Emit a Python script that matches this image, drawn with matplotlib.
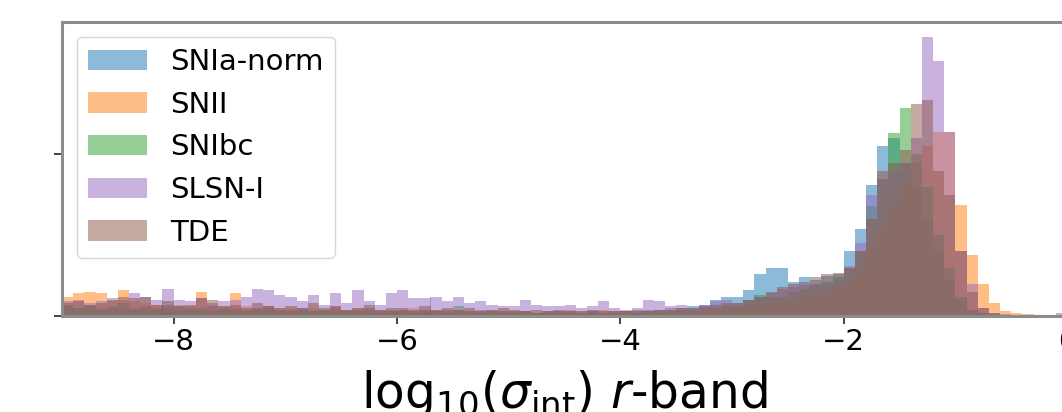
import numpy as np
import matplotlib
matplotlib.use('Agg')
import matplotlib.pyplot as plt

# bin edges of the histograms (log10 sigma_int, r-band), width 0.1
bin_edges = np.round(np.linspace(-9.0, 0.6, 97), 2)
bin_centers = (bin_edges[:-1] + bin_edges[1:]) / 2

labels = ['SNIa-norm', 'SNII', 'SNIbc', 'SLSN-I', 'TDE']
colors = ['C0', 'C1', 'C2', 'C4', 'C5']

# heights per bin (density)
snia = [0.06, 0.05, 0.07, 0.05, 0.06, 0.04, 0.05, 0.06, 0.05, 0.07,
        0.06, 0.04, 0.05, 0.06, 0.04, 0.05, 0.04, 0.05, 0.06, 0.04,
        0.04, 0.05, 0.03, 0.04, 0.05, 0.04, 0.03, 0.05, 0.04, 0.03,
        0.04, 0.03, 0.04, 0.03, 0.04, 0.03, 0.03, 0.04, 0.03, 0.03,
        0.03, 0.03, 0.02, 0.03, 0.02, 0.03, 0.02, 0.03, 0.02, 0.03,
        0.03, 0.03, 0.04, 0.04, 0.05, 0.05, 0.06, 0.07, 0.10, 0.12,
        0.12, 0.16, 0.26, 0.30, 0.30, 0.21, 0.24, 0.22, 0.25, 0.26,
        0.40, 0.54, 0.81, 1.05, 1.10, 0.95, 0.80, 0.60, 0.40, 0.22,
        0.10, 0.04, 0.02, 0.01, 0.00, 0.00, 0.00, 0.00, 0.00, 0.00,
        0.00, 0.00, 0.00, 0.00, 0.00, 0.00]

snii = [0.12, 0.14, 0.15, 0.14, 0.09, 0.16, 0.09, 0.08, 0.07, 0.06,
        0.07, 0.06, 0.15, 0.07, 0.06, 0.14, 0.06, 0.05, 0.06, 0.05,
        0.05, 0.04, 0.05, 0.04, 0.06, 0.04, 0.05, 0.04, 0.03, 0.04,
        0.04, 0.05, 0.03, 0.04, 0.03, 0.04, 0.03, 0.03, 0.04, 0.03,
        0.03, 0.03, 0.02, 0.03, 0.03, 0.04, 0.03, 0.02, 0.04, 0.03,
        0.03, 0.02, 0.03, 0.02, 0.03, 0.03, 0.04, 0.04, 0.05, 0.05,
        0.06, 0.06, 0.07, 0.08, 0.09, 0.10, 0.12, 0.13, 0.15, 0.18,
        0.22, 0.30, 0.42, 0.55, 0.70, 0.82, 0.95, 1.05, 1.14, 1.14,
        0.69, 0.38, 0.20, 0.08, 0.03, 0.02, 0.01, 0.00, 0.00, 0.00,
        0.00, 0.00, 0.00, 0.00, 0.00, 0.00]

snibc = [0.07, 0.05, 0.06, 0.04, 0.05, 0.08, 0.04, 0.05, 0.04, 0.05,
         0.04, 0.05, 0.04, 0.03, 0.05, 0.04, 0.03, 0.04, 0.05, 0.03,
         0.03, 0.04, 0.03, 0.04, 0.03, 0.03, 0.04, 0.03, 0.02, 0.03,
         0.03, 0.02, 0.03, 0.03, 0.02, 0.06, 0.03, 0.02, 0.03, 0.02,
         0.02, 0.03, 0.02, 0.02, 0.03, 0.02, 0.02, 0.03, 0.02, 0.02,
         0.03, 0.02, 0.03, 0.04, 0.03, 0.04, 0.04, 0.05, 0.05, 0.06,
         0.06, 0.10, 0.13, 0.12, 0.12, 0.15, 0.17, 0.19, 0.21, 0.24,
         0.30, 0.40, 0.68, 0.85, 1.13, 1.29, 1.00, 0.80, 0.50, 0.30,
         0.12, 0.04, 0.02, 0.00, 0.00, 0.00, 0.00, 0.00, 0.00, 0.00,
         0.00, 0.00, 0.00, 0.00, 0.00, 0.00]

slsn = [0.09, 0.10, 0.08, 0.09, 0.11, 0.10, 0.14, 0.12, 0.10, 0.17,
        0.10, 0.09, 0.11, 0.08, 0.09, 0.10, 0.12, 0.17, 0.16, 0.13,
        0.12, 0.09, 0.13, 0.07, 0.14, 0.08, 0.16, 0.09, 0.07, 0.14,
        0.16, 0.11, 0.11, 0.12, 0.09, 0.12, 0.08, 0.09, 0.07, 0.06,
        0.06, 0.10, 0.07, 0.06, 0.06, 0.07, 0.05, 0.06, 0.09, 0.05,
        0.04, 0.05, 0.10, 0.09, 0.06, 0.07, 0.05, 0.07, 0.09, 0.10,
        0.08, 0.10, 0.12, 0.14, 0.17, 0.18, 0.19, 0.20, 0.20, 0.22,
        0.31, 0.45, 0.75, 0.85, 0.90, 0.95, 1.10, 1.73, 1.58, 1.14,
        0.40, 0.20, 0.05, 0.02, 0.01, 0.00, 0.00, 0.00, 0.00, 0.02,
        0.00, 0.00, 0.00, 0.00, 0.00, 0.00]

tde = [0.08, 0.09, 0.07, 0.08, 0.10, 0.12, 0.11, 0.12, 0.07, 0.09,
       0.06, 0.07, 0.11, 0.10, 0.06, 0.07, 0.05, 0.08, 0.06, 0.05,
       0.06, 0.05, 0.08, 0.05, 0.06, 0.04, 0.05, 0.07, 0.04, 0.05,
       0.05, 0.04, 0.06, 0.04, 0.05, 0.04, 0.05, 0.03, 0.04, 0.05,
       0.04, 0.03, 0.04, 0.03, 0.04, 0.03, 0.03, 0.04, 0.03, 0.03,
       0.03, 0.04, 0.03, 0.04, 0.04, 0.05, 0.05, 0.06, 0.07, 0.08,
       0.08, 0.10, 0.12, 0.15, 0.18, 0.20, 0.21, 0.24, 0.26, 0.265,
       0.30, 0.40, 0.60, 0.90, 0.95, 1.03, 1.31, 1.34, 0.90, 0.75,
       0.40, 0.15, 0.05, 0.02, 0.00, 0.00, 0.00, 0.00, 0.00, 0.00,
       0.00, 0.00, 0.00, 0.00, 0.00, 0.00]

series = [snia, snii, snibc, slsn, tde]

fig = plt.figure(figsize=(10.62, 4.12), dpi=100)
# the panel is cropped: its right edge (x = 0) sits just past the picture edge
ax = fig.add_axes([62 / 1062, 96 / 412, 1005 / 1062, 294 / 412])

for vals, lab, col in zip(series, labels, colors):
    ax.hist(bin_centers, bins=bin_edges, weights=vals, alpha=0.5,
            color=col, label=lab)

ax.set_xlim(-9, 0)
ax.set_ylim(0, 1.82)
ax.set_xticks([-8, -6, -4, -2, 0])
ax.set_yticks([0, 1])
ax.set_yticklabels([])
ax.tick_params(labelsize=21, length=5.5, width=1.4, color='#444444')
for s in ax.spines.values():
    s.set_color('#8c8c8c')
    s.set_linewidth(2.2)

ax.set_xlabel(r'$\mathrm{log}_{10}(\sigma_{\mathrm{int}})$ $r$-band', fontsize=35, labelpad=8)
ax.legend(loc='upper left', fontsize=21)

fig.savefig('out.png', dpi=100)
